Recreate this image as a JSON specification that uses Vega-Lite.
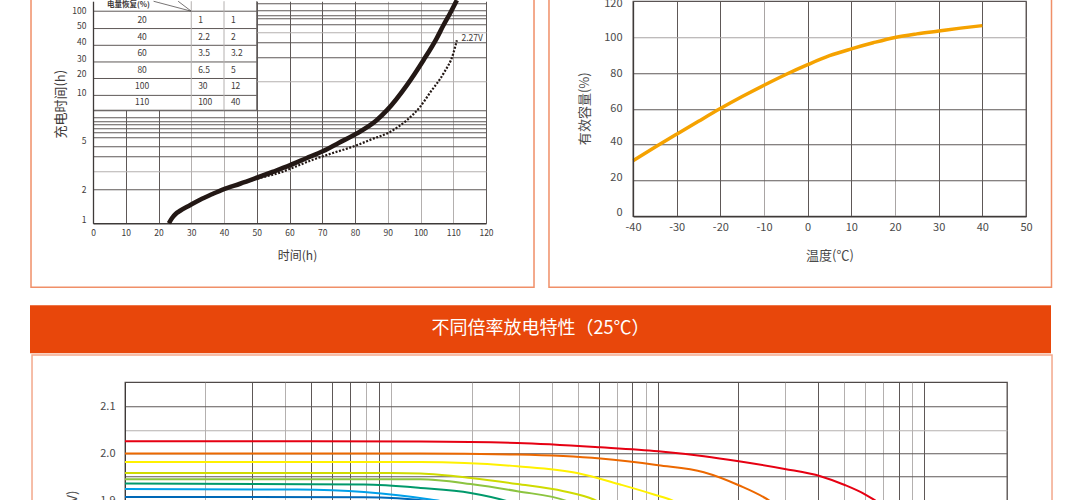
{
  "$schema": "https://vega.github.io/schema/vega-lite/v6.json",
  "background": "white",
  "padding": {"left": 30, "top": -30.75, "right": 0, "bottom": 0},
  "config": {
    "font": "Noto Sans CJK SC",
    "view": {"stroke": null},
    "axis": {"labelFont": "Noto Sans CJK SC", "titleFont": "Noto Sans CJK SC", "ticks": false, "titleFontWeight": "normal", "labelOverlap": false, "domainColor": "#3e3a39", "labelColor": "#3e3a39", "titleColor": "#3e3a39"},
    "text": {"font": "Noto Sans CJK SC"}
  },
  "datasets": {
    "chargeSolid": [
      {"time": 23.2, "charge": 1.0}, {"time": 24.1, "charge": 1.107}, {"time": 25.3, "charge": 1.214}, {"time": 26.6, "charge": 1.29},
      {"time": 29.6, "charge": 1.444}, {"time": 32.7, "charge": 1.616}, {"time": 36.3, "charge": 1.807}, {"time": 39.8, "charge": 2.0},
      {"time": 44.9, "charge": 2.24}, {"time": 50, "charge": 2.53}, {"time": 55, "charge": 2.86}, {"time": 60.2, "charge": 3.27},
      {"time": 65, "charge": 3.75}, {"time": 70.3, "charge": 4.37}, {"time": 75, "charge": 5.15}, {"time": 80.5, "charge": 6.24},
      {"time": 86.6, "charge": 8.18}, {"time": 89.7, "charge": 10.0}, {"time": 95.8, "charge": 16.7}, {"time": 100.9, "charge": 27.9},
      {"time": 104.9, "charge": 43.4}, {"time": 107.0, "charge": 56.9}, {"time": 109.0, "charge": 72.3}, {"time": 111.1, "charge": 94.8}
    ],
    "chargeDotted": [
      {"time": 23.2, "charge": 1.0}, {"time": 24.1, "charge": 1.107}, {"time": 25.3, "charge": 1.214}, {"time": 26.6, "charge": 1.29},
      {"time": 29.6, "charge": 1.444}, {"time": 32.7, "charge": 1.616}, {"time": 36.3, "charge": 1.807}, {"time": 39.8, "charge": 2.0},
      {"time": 44.9, "charge": 2.23}, {"time": 50, "charge": 2.48}, {"time": 57.1, "charge": 2.81}, {"time": 62, "charge": 3.19},
      {"time": 67.3, "charge": 3.67}, {"time": 73, "charge": 4.17}, {"time": 80.5, "charge": 4.91}, {"time": 85, "charge": 5.54},
      {"time": 90.7, "charge": 6.45}, {"time": 95.8, "charge": 8.18}, {"time": 99.8, "charge": 10.7}, {"time": 103, "charge": 14.5},
      {"time": 107.0, "charge": 21.2}, {"time": 110.0, "charge": 31.9}, {"time": 111.1, "charge": 41.9}
    ],
    "chargeTable": [
      {"rec": "20", "a": "1", "b": "1", "ty": 63.4},
      {"rec": "40", "a": "2.2", "b": "2", "ty": 44.8},
      {"rec": "60", "a": "3.5", "b": "3.2", "ty": 32.3},
      {"rec": "80", "a": "6.5", "b": "5", "ty": 22.9},
      {"rec": "100", "a": "30", "b": "12", "ty": 16.5},
      {"rec": "110", "a": "100", "b": "40", "ty": 11.8}
    ],
    "capacity": [
      {"temp": -40, "cap": 31}, {"temp": -35, "cap": 38.5}, {"temp": -30, "cap": 45.8}, {"temp": -25, "cap": 53},
      {"temp": -20, "cap": 60.1}, {"temp": -15, "cap": 66.8}, {"temp": -10, "cap": 73.1}, {"temp": -5, "cap": 79.1},
      {"temp": 0, "cap": 84.6}, {"temp": 5, "cap": 89.6}, {"temp": 10, "cap": 93.4}, {"temp": 15, "cap": 96.8},
      {"temp": 20, "cap": 99.8}, {"temp": 25, "cap": 101.8}, {"temp": 30, "cap": 103.4}, {"temp": 35, "cap": 105}, {"temp": 40, "cap": 106.4}
    ],
    "discharge": [
      {"s": "s1", "t": 1, "v": 2.0256}, {"s": "s1", "t": 5, "v": 2.0256}, {"s": "s1", "t": 12.86, "v": 2.025}, {"s": "s1", "t": 29.65, "v": 2.022},
      {"s": "s1", "t": 60.85, "v": 2.0128}, {"s": "s1", "t": 100.2, "v": 2.0043}, {"s": "s1", "t": 148.8, "v": 1.9936}, {"s": "s1", "t": 200.9, "v": 1.9829},
      {"s": "s1", "t": 299, "v": 1.9665}, {"s": "s1", "t": 406.9, "v": 1.9509}, {"s": "s1", "t": 505, "v": 1.9316}, {"s": "s1", "t": 600, "v": 1.9118},
      {"s": "s1", "t": 660, "v": 1.8974}, {"s": "s1", "t": 690, "v": 1.889},
      {"s": "s2", "t": 1, "v": 1.9994}, {"s": "s2", "t": 12.86, "v": 1.9994}, {"s": "s2", "t": 29.65, "v": 1.9972}, {"s": "s2", "t": 60.85, "v": 1.9887},
      {"s": "s2", "t": 100.2, "v": 1.9744}, {"s": "s2", "t": 148.6, "v": 1.9594}, {"s": "s2", "t": 200.9, "v": 1.9316},
      {"s": "s2", "t": 264, "v": 1.8974}, {"s": "s2", "t": 280, "v": 1.887},
      {"s": "s3", "t": 1, "v": 1.9814}, {"s": "s3", "t": 12.86, "v": 1.9814}, {"s": "s3", "t": 29.65, "v": 1.9722}, {"s": "s3", "t": 49.7, "v": 1.9579},
      {"s": "s3", "t": 72.2, "v": 1.9331}, {"s": "s3", "t": 96.5, "v": 1.9118}, {"s": "s3", "t": 114.6, "v": 1.8974}, {"s": "s3", "t": 122, "v": 1.889},
      {"s": "s4", "t": 1, "v": 1.9577}, {"s": "s4", "t": 10, "v": 1.9577}, {"s": "s4", "t": 12.86, "v": 1.9566}, {"s": "s4", "t": 19.8, "v": 1.9472},
      {"s": "s4", "t": 29.65, "v": 1.9344}, {"s": "s4", "t": 44.3, "v": 1.9188}, {"s": "s4", "t": 57.4, "v": 1.9011}, {"s": "s4", "t": 59.3, "v": 1.8974}, {"s": "s4", "t": 62, "v": 1.891},
      {"s": "s5", "t": 1, "v": 1.9445}, {"s": "s5", "t": 12.86, "v": 1.9445}, {"s": "s5", "t": 19.8, "v": 1.9344}, {"s": "s5", "t": 29.65, "v": 1.9188},
      {"s": "s5", "t": 45.6, "v": 1.8974}, {"s": "s5", "t": 48, "v": 1.892},
      {"s": "s6", "t": 1, "v": 1.9353}, {"s": "s6", "t": 7.88, "v": 1.9331}, {"s": "s6", "t": 12.86, "v": 1.9259}, {"s": "s6", "t": 19.8, "v": 1.9152},
      {"s": "s6", "t": 27.2, "v": 1.8974}, {"s": "s6", "t": 29, "v": 1.892},
      {"s": "s7", "t": 1, "v": 1.9237}, {"s": "s7", "t": 4.43, "v": 1.9224}, {"s": "s7", "t": 7.88, "v": 1.9173}, {"s": "s7", "t": 14.0, "v": 1.9011},
      {"s": "s7", "t": 15.3, "v": 1.8974}, {"s": "s7", "t": 16, "v": 1.893},
      {"s": "s8", "t": 1, "v": 1.9066}, {"s": "s8", "t": 7.88, "v": 1.906}, {"s": "s8", "t": 14.0, "v": 1.8974}, {"s": "s8", "t": 15, "v": 1.894}
    ]
  },
  "spacing": 16,
  "vconcat": [
    {
      "spacing": -1,
      "hconcat": [
        {"width": 1, "height": 1, "data": {"values": [{}]}, "mark": {"type": "point", "size": 0, "opacity": 0}},
        {
          "spacing": 12,
          "hconcat": [
            {
              "width": 393,
              "height": 222,
              "resolve": {"axis": {"x": "independent", "y": "independent"}},
              "layer": [
                {
                  "data": {"values": [{"x1": -18.93, "x2": 134.66, "y1": 171.4, "y2": 0.2708}]},
                  "mark": {"type": "rect", "filled": false, "stroke": "#f08f68", "strokeWidth": 1.5},
                  "encoding": {
                    "x": {"field": "x1", "type": "quantitative", "scale": {"type": "linear", "domain": [0, 120], "nice": false, "zero": false}, "axis": null},
                    "x2": {"field": "x2"},
                    "y": {"field": "y1", "type": "quantitative", "scale": {"type": "log", "domain": [1, 92.9], "nice": false},
                      "axis": {"orient": "right", "grid": true, "labels": false, "domain": false, "ticks": false, "title": null,
                        "values": [2, 2.9, 3.95, 4.8, 5.8, 6.45, 7, 7.5, 8.1, 8.75, 10.04, 18.3, 29.8, 40.5, 49.7, 58.1, 65.3, 69.8, 77.3, 88.7],
                        "gridColor": {"condition": {"test": "indexof([2.9, 18.3, 49.7], datum.value) >= 0", "value": "#b4b0af"}, "value": "#5e5857"},
                        "gridWidth": 1}},
                    "y2": {"field": "y2"}
                  }
                },
                {
                  "data": {"values": [{}]},
                  "mark": {"type": "rect", "fill": "white", "stroke": null},
                  "encoding": {
                    "x": {"datum": 0, "type": "quantitative", "scale": {"type": "linear", "domain": [0, 120], "nice": false, "zero": false}, "axis": null},
                    "x2": {"datum": 50},
                    "y": {"datum": 10.04, "type": "quantitative", "scale": {"type": "log", "domain": [1, 92.9], "nice": false}, "axis": null},
                    "y2": {"datum": 92.9}
                  }
                },
                {
                  "data": {"values": [{"v": 10.04}, {"v": 13.6}, {"v": 19.2}, {"v": 26.9}, {"v": 37.8}, {"v": 53.2}, {"v": 75.8}]},
                  "mark": {"type": "rule", "color": "#5e5857", "strokeWidth": 1},
                  "encoding": {
                    "y": {"field": "v", "type": "quantitative", "scale": {"type": "log", "domain": [1, 92.9], "nice": false}, "axis": null},
                    "x": {"datum": 0, "type": "quantitative", "scale": {"type": "linear", "domain": [0, 120], "nice": false, "zero": false}, "axis": null},
                    "x2": {"datum": 50}
                  }
                },
                {
                  "data": {"values": [{"c": 30}, {"c": 40}, {"c": 50}]},
                  "mark": {"type": "rule", "strokeWidth": 1},
                  "encoding": {
                    "x": {"field": "c", "type": "quantitative", "scale": {"type": "linear", "domain": [0, 120], "nice": false, "zero": false}, "axis": null},
                    "y": {"datum": 10.04, "type": "quantitative", "scale": {"type": "log", "domain": [1, 92.9], "nice": false}, "axis": null},
                    "y2": {"datum": 92.9},
                    "color": {"condition": {"test": "datum.c == 50", "value": "#5e5857"}, "value": "#b4b0af"}
                  }
                },
                {
                  "data": {"values": [{"xa": 30, "ya": 75.8, "xb": 18.5, "yb": 92.9}, {"xa": 30, "ya": 75.8, "xb": 26, "yb": 92.9}]},
                  "mark": {"type": "rule", "color": "#3e3a39", "strokeWidth": 0.7},
                  "encoding": {
                    "x": {"field": "xa", "type": "quantitative", "scale": {"type": "linear", "domain": [0, 120], "nice": false, "zero": false}, "axis": null},
                    "y": {"field": "ya", "type": "quantitative", "scale": {"type": "log", "domain": [1, 92.9], "nice": false}, "axis": null},
                    "x2": {"field": "xb"},
                    "y2": {"field": "yb"}
                  }
                },
                {
                  "data": {"values": [{"t": "电量恢复(%)", "x": 10.8, "y": 86.1}]},
                  "mark": {"type": "text", "fontSize": 7.5, "fontWeight": "bold", "color": "#3e3a39"},
                  "encoding": {
                    "x": {"field": "x", "type": "quantitative", "scale": {"type": "linear", "domain": [0, 120], "nice": false, "zero": false}, "axis": null},
                    "y": {"field": "y", "type": "quantitative", "scale": {"type": "log", "domain": [1, 92.9], "nice": false}, "axis": null},
                    "text": {"field": "t"}
                  }
                },
                {
                  "data": {"name": "chargeTable"},
                  "mark": {"type": "text", "fontSize": 8.5, "color": "#3e3a39", "align": "center"},
                  "encoding": {
                    "x": {"datum": 15, "type": "quantitative", "scale": {"type": "linear", "domain": [0, 120], "nice": false, "zero": false}, "axis": null},
                    "y": {"field": "ty", "type": "quantitative", "scale": {"type": "log", "domain": [1, 92.9], "nice": false}, "axis": null},
                    "text": {"field": "rec"}
                  }
                },
                {
                  "data": {"name": "chargeTable"},
                  "mark": {"type": "text", "fontSize": 8.5, "color": "#3e3a39", "align": "left"},
                  "encoding": {
                    "x": {"datum": 32.1, "type": "quantitative", "scale": {"type": "linear", "domain": [0, 120], "nice": false, "zero": false}, "axis": null},
                    "y": {"field": "ty", "type": "quantitative", "scale": {"type": "log", "domain": [1, 92.9], "nice": false}, "axis": null},
                    "text": {"field": "a"}
                  }
                },
                {
                  "data": {"name": "chargeTable"},
                  "mark": {"type": "text", "fontSize": 8.5, "color": "#3e3a39", "align": "left"},
                  "encoding": {
                    "x": {"datum": 42.1, "type": "quantitative", "scale": {"type": "linear", "domain": [0, 120], "nice": false, "zero": false}, "axis": null},
                    "y": {"field": "ty", "type": "quantitative", "scale": {"type": "log", "domain": [1, 92.9], "nice": false}, "axis": null},
                    "text": {"field": "b"}
                  }
                },
                {
                  "data": {"name": "chargeDotted"},
                  "mark": {"type": "line", "color": "#231815", "strokeWidth": 2.2, "strokeDash": [2, 1.6], "interpolate": "monotone"},
                  "encoding": {
                    "x": {"field": "time", "type": "quantitative", "scale": {"type": "linear", "domain": [0, 120], "nice": false, "zero": false}, "axis": null},
                    "y": {"field": "charge", "type": "quantitative", "scale": {"type": "log", "domain": [1, 92.9], "nice": false}, "axis": null}
                  }
                },
                {
                  "data": {"name": "chargeSolid"},
                  "mark": {"type": "line", "color": "#231815", "strokeWidth": 4.6, "interpolate": "monotone"},
                  "encoding": {
                    "x": {"field": "time", "type": "quantitative", "scale": {"type": "linear", "domain": [0, 120], "nice": false, "zero": false},
                      "axis": {"values": [0, 10, 20, 30, 40, 50, 60, 70, 80, 90, 100, 110, 120], "grid": true, "gridWidth": 1,
                        "gridColor": {"condition": {"test": "indexof([30, 40, 90, 100, 110], datum.value) >= 0", "value": "#b4b0af"}, "value": "#5e5857"},
                        "labelOverlap": false, "labelBound": false, "labelFlush": false,
                        "labelFontSize": 8.5, "labelPadding": 5, "domain": true, "domainWidth": 1.3, "title": "时间(h)", "titleFontSize": 12,
                        "titleX": 204, "titleY": 32, "titleBaseline": "middle"}},
                    "y": {"field": "charge", "type": "quantitative", "scale": {"type": "log", "domain": [1, 92.9], "nice": false},
                      "axis": {"orient": "left", "grid": false, "zindex": 1, "domain": true, "domainWidth": 1.3, "labelOverlap": false,
                        "values": [1.085, 1.99, 5.44, 14.29, 21.24, 28.85, 40.5, 56.9, 76.2],
                        "labelExpr": "datum.value < 1.5 ? '1' : datum.value < 3 ? '2' : datum.value < 9 ? '5' : datum.value < 18 ? '10' : datum.value < 25 ? '20' : datum.value < 35 ? '30' : datum.value < 48 ? '40' : datum.value < 66 ? '50' : '100'",
                        "labelFontSize": 8.5, "labelPadding": 7, "title": "充电时间(h)", "titleFontSize": 13,
                        "titleX": -32.3, "titleY": 102.5, "titleBaseline": "middle"}}
                  }
                },
                {
                  "data": {"values": [{"t": "2.27V", "x": 112.5, "y": 44.3}]},
                  "mark": {"type": "text", "fontSize": 8.5, "color": "#3e3a39", "align": "left"},
                  "encoding": {
                    "x": {"field": "x", "type": "quantitative", "scale": {"type": "linear", "domain": [0, 120], "nice": false, "zero": false}, "axis": null},
                    "y": {"field": "y", "type": "quantitative", "scale": {"type": "log", "domain": [1, 92.9], "nice": false}, "axis": null},
                    "text": {"field": "t"}
                  }
                }
              ]
            },
            {
              "width": 393,
              "height": 215,
              "view": {"stroke": "#5a5453", "strokeWidth": 1.3},
              "resolve": {"axis": {"x": "independent", "y": "independent"}},
              "layer": [
                {
                  "data": {"values": [{"x1": -59.24, "x2": 55.84, "y1": 136.74, "y2": -39.63}]},
                  "mark": {"type": "rect", "filled": false, "stroke": "#f08f68", "strokeWidth": 1.5},
                  "encoding": {
                    "x": {"field": "x1", "type": "quantitative", "scale": {"type": "linear", "domain": [-40, 50], "nice": false, "zero": false}, "axis": null},
                    "x2": {"field": "x2"},
                    "y": {"field": "y1", "type": "quantitative", "scale": {"type": "linear", "domain": [0, 120], "nice": false, "zero": false},
                      "axis": {"orient": "right", "grid": true, "labels": false, "domain": false, "ticks": false, "title": null,
                        "values": [20, 40, 60, 80, 100],
                        "gridColor": {"condition": {"test": "datum.value == 100", "value": "#a9a5a4"}, "value": "#5e5857"},
                        "gridWidth": 1}},
                    "y2": {"field": "y2"}
                  }
                },
                {
                  "data": {"name": "capacity"},
                  "mark": {"type": "line", "color": "#f5a200", "strokeWidth": 3.5, "interpolate": "monotone"},
                  "encoding": {
                    "x": {"field": "temp", "type": "quantitative", "scale": {"type": "linear", "domain": [-40, 50], "nice": false, "zero": false},
                      "axis": {"values": [-40, -30, -20, -10, 0, 10, 20, 30, 40, 50], "grid": true, "gridWidth": 1,
                        "gridColor": {"condition": {"test": "datum.value == -10 || datum.value == 20", "value": "#a9a5a4"}, "value": "#5e5857"},
                        "labelOverlap": false, "labelFlush": false,
                        "labelExpr": "'' + datum.value", "labelFontSize": 11, "labelColor": "#4a4a4a", "labelPadding": 5, "domain": true, "domainWidth": 1.3,
                        "title": "温度(℃)", "titleFontSize": 13, "titleColor": "#4a4a4a", "titleY": 39.7, "titleBaseline": "middle"}},
                    "y": {"field": "cap", "type": "quantitative", "scale": {"type": "linear", "domain": [0, 120], "nice": false, "zero": false},
                      "axis": {"orient": "left", "grid": false, "zindex": 1, "domain": true, "domainWidth": 1.3, "labelOverlap": false,
                        "values": [2.2, 21.9, 41.5, 60.1, 79.6, 99.5, 118.9],
                        "labelExpr": "'' + round(datum.value / 20) * 20",
                        "labelFontSize": 11, "labelColor": "#4a4a4a", "labelPadding": 11,
                        "title": "有效容量(%)", "titleFontSize": 13, "titleColor": "#4a4a4a",
                        "titleX": -48.7, "titleY": 107, "titleBaseline": "middle"}}
                  }
                }
              ]
            }
          ]
        }
      ]
    },
    {
      "spacing": 0,
      "vconcat": [
        {
          "width": 1021,
          "height": 48,
          "view": {"fill": "#e8470b", "stroke": null},
          "data": {"values": [{"t": "不同倍率放电特性（25℃）"}]},
          "mark": {"type": "text", "color": "white", "fontSize": 18, "font": "Noto Sans CJK SC"},
          "encoding": {"text": {"field": "t"}}
        },
        {
          "spacing": -1,
          "hconcat": [
            {"width": 1, "height": 1, "data": {"values": [{}]}, "mark": {"type": "point", "size": 0, "opacity": 0}},
            {
              "width": 882,
              "height": 258,
              "view": {"stroke": "#4f4948", "strokeWidth": 1.3},
              "resolve": {"axis": {"x": "independent", "y": "independent"}},
              "layer": [
                {
                  "data": {"values": [{"x1": 0.4478, "x2": 3010, "y1": 2.2102, "y2": 1.4}]},
                  "mark": {"type": "rect", "filled": false, "stroke": "#f3a88c", "strokeWidth": 1.5},
                  "encoding": {
                    "x": {"field": "x1", "type": "quantitative", "scale": {"type": "log", "domain": [1, 2040], "nice": false}, "axis": null},
                    "x2": {"field": "x2"},
                    "y": {"field": "y1", "type": "quantitative", "scale": {"type": "linear", "domain": [1.6, 2.152], "nice": false, "zero": false}, "axis": null},
                    "y2": {"field": "y2"}
                  }
                },
                {
                  "data": {"name": "discharge"},
                  "mark": {"type": "line", "strokeWidth": 2, "interpolate": "monotone"},
                  "encoding": {
                    "x": {"field": "t", "type": "quantitative", "scale": {"type": "log", "domain": [1, 2040], "nice": false},
                      "axis": {"values": [1, 2, 3, 4, 5, 6, 7, 8, 9, 10, 20, 30, 40, 50, 60, 70, 80, 90, 100, 200, 300, 400, 500, 600, 700, 800, 900, 1000],
                        "grid": true, "gridWidth": 1, "labelOverlap": false,
                        "gridColor": {"condition": {"test": "indexof([2, 4, 8, 10, 20, 30, 40, 50, 70, 90, 300, 500, 600, 700, 900], datum.value) >= 0", "value": "#b4b0af"}, "value": "#5e5857"},
                        "labelExpr": "indexof([1, 2, 5, 10, 20, 50, 100, 200, 500, 1000], datum.value) >= 0 ? datum.label : ''",
                        "labelFontSize": 11, "labelColor": "#4a4a4a", "title": null}},
                    "y": {"field": "v", "type": "quantitative", "scale": {"type": "linear", "domain": [1.6, 2.152], "nice": false, "zero": false},
                      "axis": {"values": [1.6, 1.65, 1.7, 1.75, 1.8, 1.85, 1.9, 1.95, 2.0, 2.05, 2.1],
                        "grid": true, "gridWidth": 1, "labelOverlap": false,
                        "gridColor": {"condition": {"test": "indexof([2.05, 1.9], datum.value) >= 0", "value": "#b4b0af"}, "value": "#5e5857"},
                        "labelExpr": "round(datum.value * 100) % 10 == 0 ? format(datum.value, '.1f') : ''",
                        "labelFontSize": 11, "labelColor": "#4a4a4a", "labelPadding": 10,
                        "title": "电压(V)", "titleFontSize": 13, "titleColor": "#4a4a4a", "titleX": -52.3, "titleBaseline": "middle"}},
                    "color": {"field": "s", "type": "nominal", "legend": null,
                      "scale": {"domain": ["s1", "s2", "s3", "s4", "s5", "s6", "s7", "s8"],
                        "range": ["#e60012", "#ec6800", "#fff100", "#cfdb00", "#8cc440", "#00996b", "#00a0e9", "#0068b7"]}}
                  }
                }
              ]
            }
          ]
        }
      ]
    }
  ]
}
